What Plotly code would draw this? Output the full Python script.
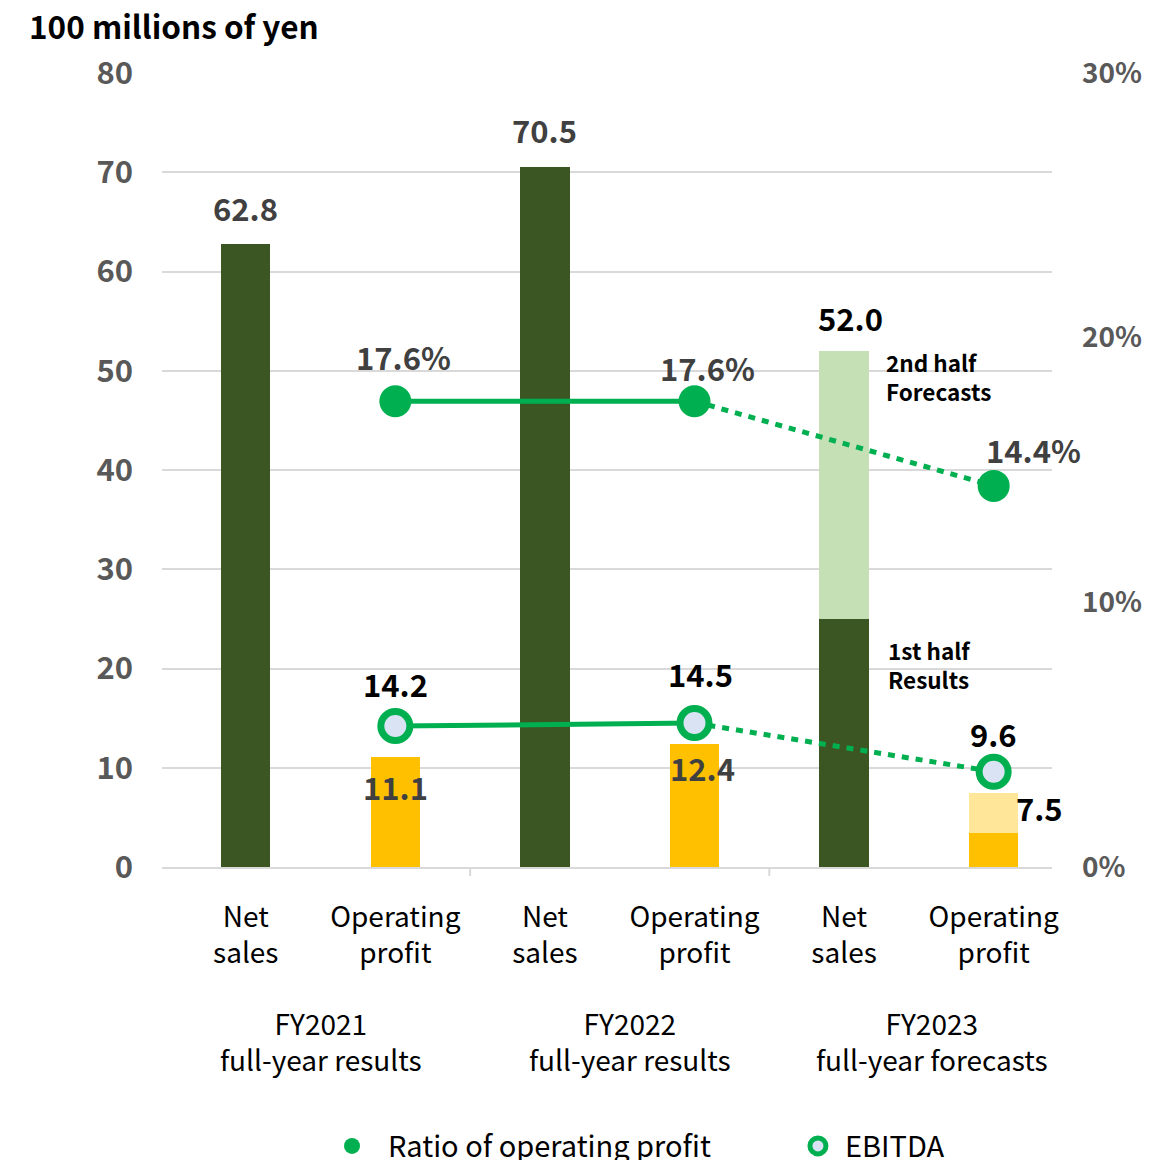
import plotly.graph_objects as go

# ---- data (100 millions of yen / %) ----
periods = ["FY2021", "FY2022", "FY2023"]
period_notes = ["full-year results", "full-year results", "full-year forecasts"]
items = ["Net<br>sales", "Operating<br>profit"]

net_sales_total = [62.8, 70.5, 52.0]
op_profit_total = [11.1, 12.4, 7.5]
net_sales_h1_fy2023 = 25.0
op_profit_h1_fy2023 = 3.4
ebitda = [14.2, 14.5, 9.6]
op_margin = [17.6, 17.6, 14.4]

left_ticks = [0, 10, 20, 30, 40, 50, 60, 70, 80]
right_ticks = [0, 10, 20, 30]

# ---- colours ----
DARK_GREEN = "#3B5623"
LIGHT_GREEN = "#C5E0B4"
GOLD = "#FFC000"
LIGHT_GOLD = "#FFE699"
LINE_GREEN = "#00B050"
RING_FILL = "#DAE3F3"
AXIS_GREY = "#595959"
LABEL_GREY = "#404040"
GRID = "#D9D9D9"
FONT = "Noto Sans CJK JP"
DOTS = "7px,7px"

categories = [f"{p} {i}" for p in periods for i in ("NS", "OP")]
tick_text = items * len(periods)
op_cats = [c for c in categories if c.endswith("OP")]
ns_cats = [c for c in categories if c.endswith("NS")]

# solid part of each bar (FY2023: first half results)
results_part = []
results_colors = []
for k in range(len(periods)):
    last = k == len(periods) - 1
    results_part.append(net_sales_h1_fy2023 if last else net_sales_total[k])
    results_part.append(op_profit_h1_fy2023 if last else op_profit_total[k])
    results_colors += [DARK_GREEN, GOLD]

# forecast part (FY2023 second half)
forecast_part = [None] * (len(categories) - 2) + [
    round(net_sales_total[-1] - net_sales_h1_fy2023, 1),
    round(op_profit_total[-1] - op_profit_h1_fy2023, 1),
]
forecast_colors = [LIGHT_GREEN if c.endswith("NS") else LIGHT_GOLD for c in categories]

fig = go.Figure()

fig.add_trace(go.Bar(
    x=categories, y=results_part, marker=dict(color=results_colors, line_width=0),
    width=0.33, showlegend=False, hoverinfo="y",
))
fig.add_trace(go.Bar(
    x=categories, y=forecast_part, marker=dict(color=forecast_colors, line_width=0),
    width=0.33, showlegend=False, hoverinfo="y",
))

# operating margin line (right axis): solid for results, dotted for forecast
fig.add_trace(go.Scatter(
    x=op_cats[:2], y=op_margin[:2], yaxis="y2", mode="lines",
    line=dict(color=LINE_GREEN, width=5), showlegend=False, hoverinfo="skip",
))
fig.add_trace(go.Scatter(
    x=op_cats[1:], y=op_margin[1:], yaxis="y2", mode="lines",
    line=dict(color=LINE_GREEN, width=5, dash=DOTS), showlegend=False, hoverinfo="skip",
))
# EBITDA line (left axis)
fig.add_trace(go.Scatter(
    x=op_cats[:2], y=ebitda[:2], mode="lines",
    line=dict(color=LINE_GREEN, width=5), showlegend=False, hoverinfo="skip",
))
fig.add_trace(go.Scatter(
    x=op_cats[1:], y=ebitda[1:], mode="lines",
    line=dict(color=LINE_GREEN, width=5, dash=DOTS), showlegend=False, hoverinfo="skip",
))

# markers (these carry the legend entries, each in its own legend box)
fig.add_trace(go.Scatter(
    x=op_cats, y=op_margin, yaxis="y2", mode="markers", name="Ratio of operating profit",
    marker=dict(color=LINE_GREEN, size=32, line_width=0), legend="legend",
))
fig.add_trace(go.Scatter(
    x=op_cats, y=ebitda, mode="markers", name="EBITDA",
    marker=dict(color=RING_FILL, size=29, line=dict(color=LINE_GREEN, width=7)),
    legend="legend2",
))

annotations = []


def label(x, y, text, color, size=31, yref="y", **kw):
    annotations.append(dict(
        x=x, y=y, yref=yref, text=text, showarrow=False,
        font=dict(family=FONT, size=size, color=color, weight="bold"), **kw))


# totals above net sales bars
label(ns_cats[0], net_sales_total[0], f"{net_sales_total[0]:.1f}", LABEL_GREY, yanchor="bottom", yshift=12)
label(ns_cats[1], net_sales_total[1], f"{net_sales_total[1]:.1f}", LABEL_GREY, yanchor="bottom", yshift=13)
label(ns_cats[2], net_sales_total[2], f"{net_sales_total[2]:.1f}", "#000000", yanchor="bottom", yshift=9, xshift=6)

# operating profit values
label(op_cats[0], op_profit_total[0], f"{op_profit_total[0]:.1f}", LABEL_GREY, yanchor="top", yshift=-5)
label(op_cats[1], op_profit_total[1], f"{op_profit_total[1]:.1f}", LABEL_GREY, yanchor="top", yshift=1, xshift=8)
label(op_cats[2], op_profit_total[2], f"{op_profit_total[2]:.1f}", "#000000", xanchor="left", xshift=20, yanchor="top", yshift=10)

# EBITDA values
label(op_cats[0], ebitda[0], f"{ebitda[0]:.1f}", "#000000", yanchor="bottom", yshift=18)
label(op_cats[1], ebitda[1], f"{ebitda[1]:.1f}", "#000000", yanchor="bottom", yshift=25, xshift=6)
label(op_cats[2], ebitda[2], f"{ebitda[2]:.1f}", "#000000", yanchor="bottom", yshift=14)

# operating margin values
label(op_cats[0], op_margin[0], f"{op_margin[0]:.1f}%", LABEL_GREY, yref="y2", yanchor="bottom", yshift=20, xshift=8)
label(op_cats[1], op_margin[1], f"{op_margin[1]:.1f}%", LABEL_GREY, yref="y2", yanchor="bottom", yshift=9, xshift=13)
label(op_cats[2], op_margin[2], f"{op_margin[2]:.1f}%", LABEL_GREY, yref="y2", yanchor="bottom", yshift=12, xshift=40)

# half-year notes beside the FY2023 net sales bar
annotations.append(dict(
    x=ns_cats[2], y=net_sales_total[2], text="2nd half<br>Forecasts", showarrow=False,
    xanchor="left", yanchor="top", xshift=40, yshift=7, align="left",
    font=dict(family=FONT, size=22.5, color="#000000", weight="bold")))
annotations.append(dict(
    x=ns_cats[2], y=net_sales_h1_fy2023, text="1st half<br>Results", showarrow=False,
    xanchor="left", yanchor="top", xshift=42, yshift=-13, align="left",
    font=dict(family=FONT, size=22.5, color="#000000", weight="bold")))

# period labels under each pair of bars
group_nudge = [0, 10, 13]
for k, (p, note) in enumerate(zip(periods, period_notes)):
    annotations.append(dict(
        x=2 * k + 0.5, y=0, yref="paper", text=f"{p}<br>{note}", showarrow=False,
        yanchor="top", yshift=-134, xshift=group_nudge[k],
        font=dict(family=FONT, size=28, color="#000000")))

# axis unit title
annotations.append(dict(
    x=0, y=1, xref="paper", yref="paper", text="100 millions of yen", showarrow=False,
    xanchor="left", yanchor="middle", xshift=-135, yshift=48,
    font=dict(family=FONT, size=31.5, color="#000000", weight="bold")))

# short dividers between fiscal-year groups
shapes = []
for pos in (1.5, 3.5):
    shapes.append(dict(type="line", x0=pos, x1=pos, xref="x", yref="paper",
                       ysizemode="pixel", yanchor=0, y0=0, y1=-9,
                       line=dict(color=GRID, width=2)))

legend_style = dict(
    orientation="h", xref="container", yref="container", yanchor="middle", y=0.012,
    xanchor="left", font=dict(family=FONT, size=29, color="#000000"),
    bgcolor="rgba(0,0,0,0)", itemsizing="trace",
)

fig.update_layout(
    template="none",
    width=1155, height=1160,
    margin=dict(l=162, r=103, t=73, b=293, autoexpand=False),
    plot_bgcolor="white", paper_bgcolor="white",
    barmode="stack", bargap=0.66,
    font=dict(family=FONT, color=AXIS_GREY),
    xaxis=dict(
        type="category", categoryorder="array", categoryarray=categories,
        tickmode="array", tickvals=categories, ticktext=tick_text,
        range=[-0.56, 5.39], showgrid=False, zeroline=False, showline=True,
        linecolor=GRID, linewidth=2, ticks="", automargin=False,
        tickfont=dict(family=FONT, size=28, color="#000000"), ticklabelstandoff=24,
    ),
    yaxis=dict(
        range=[0, 80], tickmode="array", tickvals=left_ticks, showgrid=True,
        gridcolor=GRID, gridwidth=2, automargin=False,
        zeroline=False, showline=False, ticks="", ticklabelstandoff=28,
        tickfont=dict(family=FONT, size=31, color=AXIS_GREY, weight="bold"),
    ),
    yaxis2=dict(
        range=[0, 30], tickmode="array", tickvals=right_ticks,
        ticktext=[f"{v}%" for v in right_ticks], overlaying="y", side="right",
        showgrid=False, zeroline=False, showline=False, ticks="", ticklabelstandoff=29,
        automargin=False,
        tickfont=dict(family=FONT, size=28, color=AXIS_GREY, weight="bold"),
    ),
    legend=dict(legend_style, x=0.2736, itemwidth=62),
    legend2=dict(legend_style, x=0.6848, itemwidth=44),
    annotations=annotations,
    shapes=shapes,
)

fig.write_html("out.html")
